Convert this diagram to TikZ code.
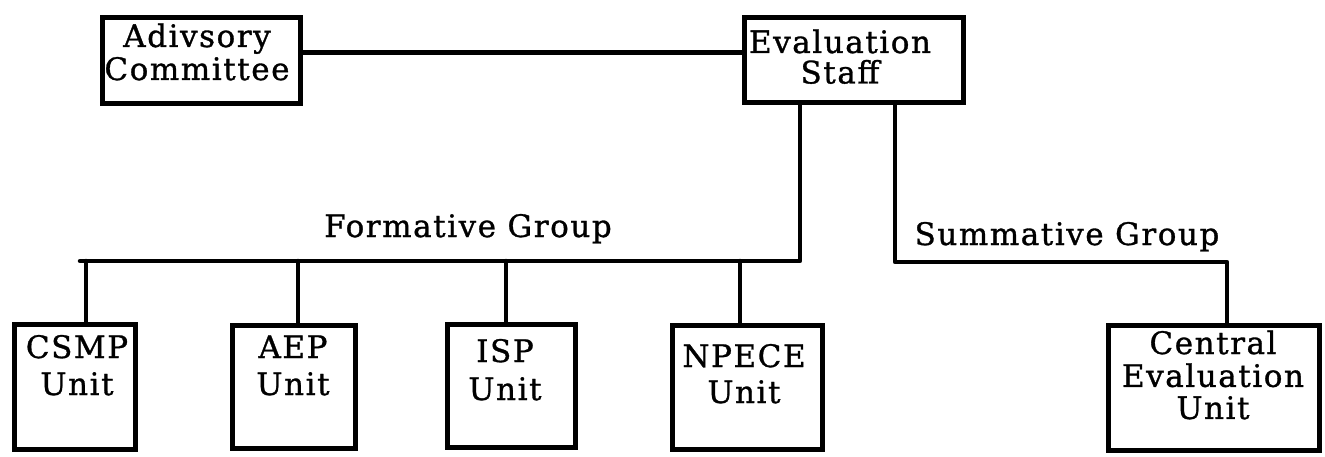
\documentclass[tikz,border=0pt]{standalone}
\usepackage{fontspec}
\setmainfont{DejaVu Serif}[LetterSpace=5,FakeBold=1]
\newcommand\mystack[2]{{\fontsize{31}{#1}\selectfont\begin{tabular}[t]{@{}c@{}}#2\end{tabular}}}
\begin{document}
\begin{tikzpicture}[x=1pt,y=-1pt,
  box/.style={draw, line width=5pt, rectangle, inner sep=0pt},
  lbl/.style={anchor=base, inner sep=0pt, font=\fontsize{31}{36}\selectfont},
  link/.style={line width=4.5pt, line cap=round, line join=round}]
\useasboundingbox (0,0) rectangle (1325,457);
% boxes
\node[box, minimum width=198pt, minimum height=86pt] (adv) at (201.5,60.5) {};
\node[box, minimum width=219pt, minimum height=85pt] (eval) at (854,60) {};
\node[box, minimum width=121pt, minimum height=125pt] (csmp) at (75,387) {};
\node[box, minimum width=123pt, minimum height=123pt] (aep) at (294,387) {};
\node[box, minimum width=128pt, minimum height=123pt] (isp) at (511.5,386) {};
\node[box, minimum width=150pt, minimum height=124pt] (npece) at (747.5,387.5) {};
\node[box, minimum width=211pt, minimum height=125pt] (central) at (1214,388) {};
% texts
\node[lbl] (advt) at (197,47) {\mystack{33}{Adivsory\\Committee}};
\node[lbl] (evalt) at (840,53) {\mystack{23}{Evaluation\\Staff}};
\node[lbl] (csmpt) at (77,358) {\mystack{37}{CSMP\\Unit}};
\node[lbl] (aept) at (293,358) {\mystack{37}{AEP\\Unit}};
\node[lbl] (ispt) at (505,362) {\mystack{38}{ISP\\Unit}};
\node[lbl] (npecet) at (744,367) {\mystack{36}{NPECE\\Unit}};
\node[lbl] (centralt) at (1213,354) {\mystack{31}{Central\\Evaluation\\Unit}};
\node[lbl] (formt) at (468,237) {Formative Group};
\node[lbl] (sumt) at (1067,245) {Summative Group};
% bus coordinates
\coordinate (fj) at (800,261);
\coordinate (fl) at (80,261);
\coordinate (sj) at (895,262);
\coordinate (sr) at (1227,262);
% connectors
\draw[link] ([yshift=8pt]adv.east) -- ([yshift=8pt]adv.east -| eval.west);
\draw[link] (eval.south -| fj) -- (fj) -- (fl);
\draw[link] (eval.south -| sj) -- (sj) -- (sr) -- (sr |- central.north);
\draw[link] ([xshift=11pt]csmp.north) -- ([xshift=11pt]csmp.north |- fl);
\draw[link] ([xshift=4pt]aep.north) -- ([xshift=4pt]aep.north |- fl);
\draw[link] ([xshift=-5.5pt]isp.north) -- ([xshift=-5.5pt]isp.north |- fl);
\draw[link] ([xshift=-7.5pt]npece.north) -- ([xshift=-7.5pt]npece.north |- fl);
\end{tikzpicture}
\end{document}
